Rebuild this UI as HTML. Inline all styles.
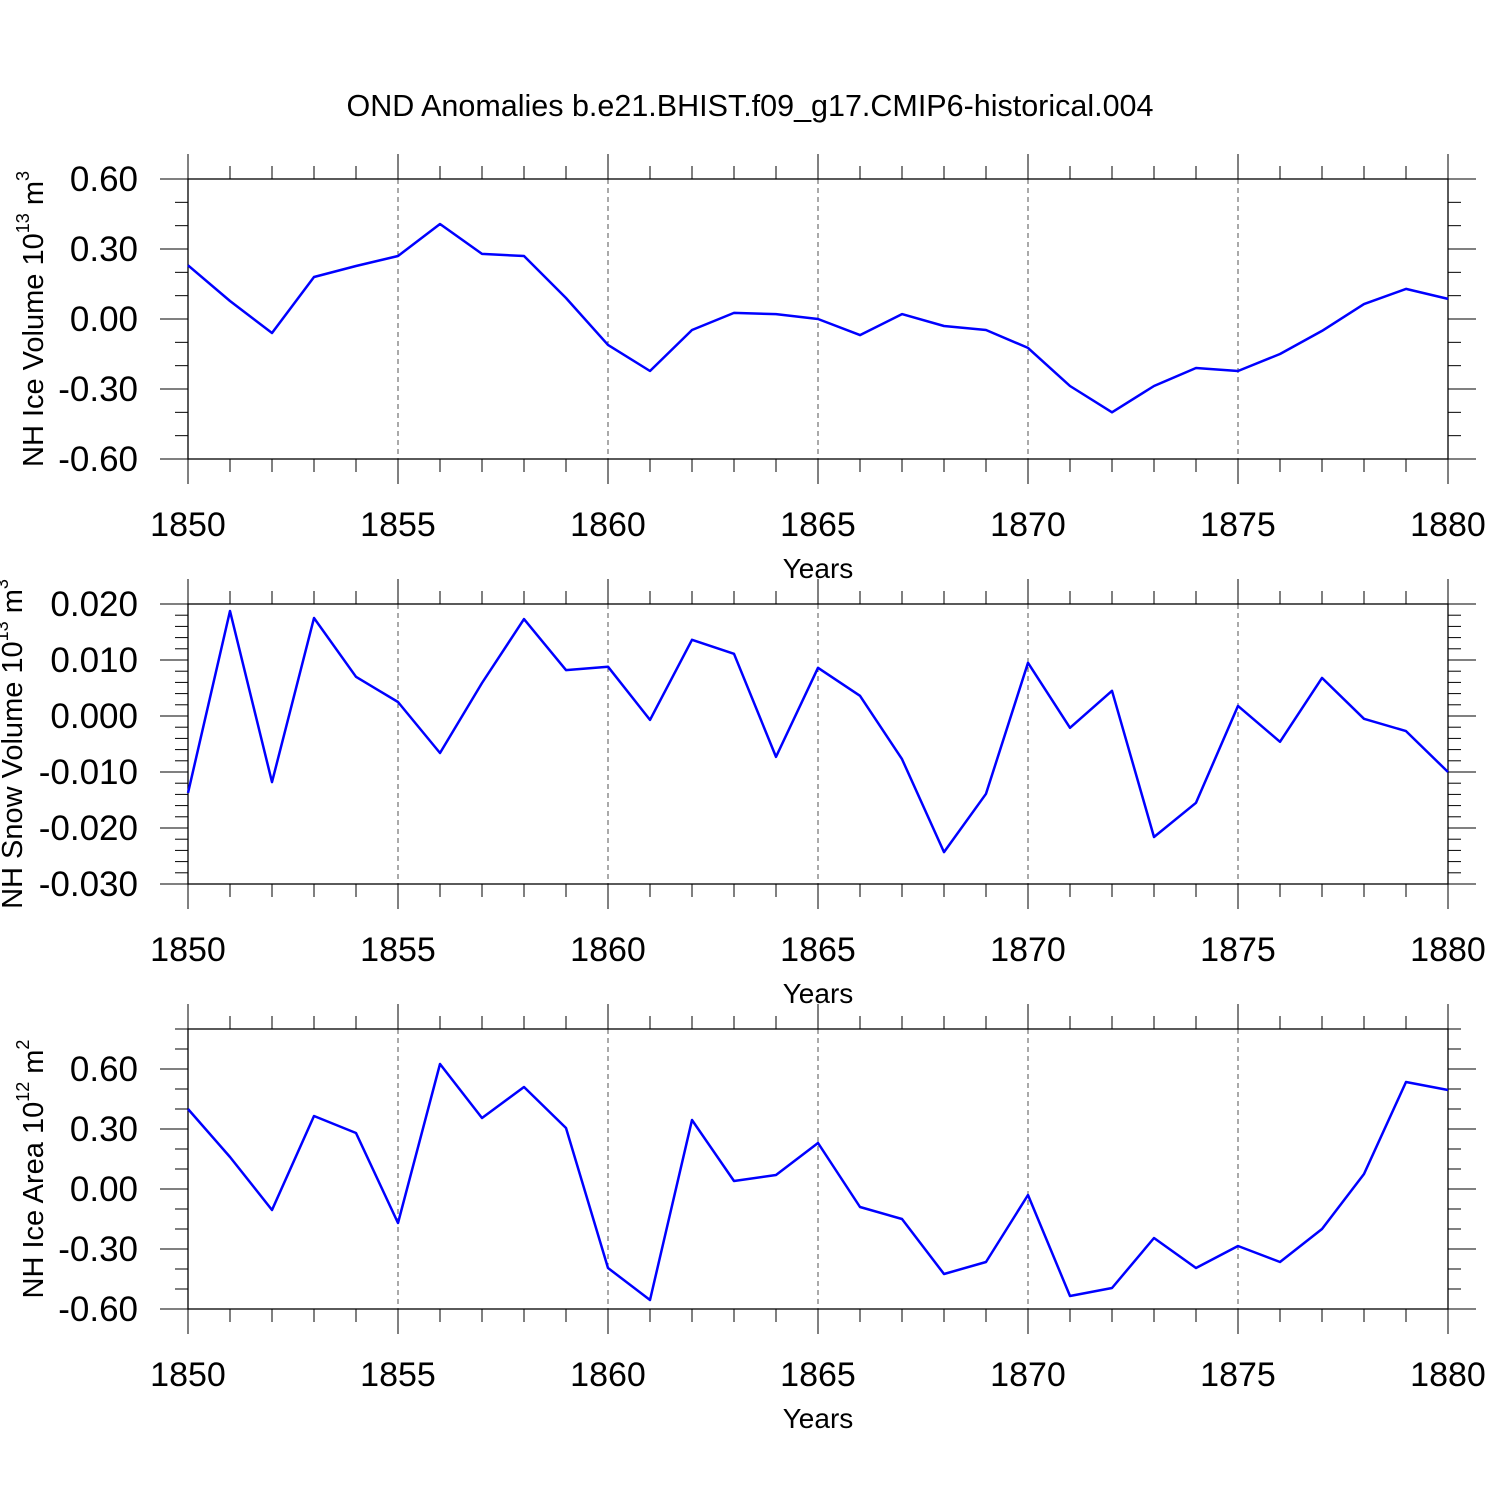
<!DOCTYPE html>
<html><head><meta charset="utf-8"><style>body{margin:0;background:#fff}svg{display:block}</style></head>
<body>
<svg id="chart" width="1500" height="1500" xmlns="http://www.w3.org/2000/svg" font-family="Liberation Sans, sans-serif">
<rect width="1500" height="1500" fill="#fff"/>
<text x="750" y="116" text-anchor="middle" font-size="30.5">OND Anomalies b.e21.BHIST.f09_g17.CMIP6-historical.004</text>
</svg>
<script>
const years = [];
for (let y = 1850; y <= 1880; y++) years.push(y);
const iceVolume = [0.23,0.077,-0.06,0.18,0.227,0.27,0.407,0.279,0.27,0.09,-0.111,-0.223,-0.047,0.026,0.021,0,-0.069,0.021,-0.03,-0.047,-0.124,-0.287,-0.4,-0.287,-0.21,-0.223,-0.15,-0.051,0.064,0.129,0.086];
const snowVolume = [-0.01375,0.01875,-0.0118,0.0175,0.007,0.0025,-0.0066,0.0059,0.0173,0.0082,0.0088,-0.0007,0.0136,0.0111,-0.0073,0.0086,0.0036,-0.0077,-0.0243,-0.0139,0.0095,-0.0021,0.0045,-0.0216,-0.0155,0.0018,-0.0046,0.0068,-0.0005,-0.0027,-0.01];
const iceArea = [0.40,0.16,-0.105,0.365,0.28,-0.17,0.625,0.355,0.51,0.305,-0.395,-0.555,0.345,0.04,0.07,0.23,-0.09,-0.15,-0.425,-0.365,-0.03,-0.535,-0.495,-0.245,-0.395,-0.285,-0.365,-0.2,0.075,0.535,0.495];
const xTickLabels = ['1850','1855','1860','1865','1870','1875','1880'];
const iceVolumeTicks = ['0.60','0.30','0.00','-0.30','-0.60'];
const snowTicks = ['0.020','0.010','0.000','-0.010','-0.020','-0.030'];
const iceAreaTicks = ['0.60','0.30','0.00','-0.30','-0.60'];

const NS = 'http://www.w3.org/2000/svg';
const svg = document.getElementById('chart');
function mk(tag, attrs, parent) {
  const e = document.createElementNS(NS, tag);
  for (const k in attrs) e.setAttribute(k, attrs[k]);
  (parent || svg).appendChild(e);
  return e;
}
const X0 = 188, X1 = 1448;
function xs(v) { return X0 + (v - 1850) / 30 * (X1 - X0); }

function panel(id, top, bottom, ymin, ymax, majorStep, minorStep, ticks, data, titleMain, sup, unitSup, titleX) {
  const g = mk('g', {});
  
  
  const ys = v => bottom - (v - ymin) / (ymax - ymin) * (bottom - top);
  for (let yr = 1855; yr < 1880; yr += 5) {
    const l = mk('line', {x1: xs(yr), x2: xs(yr), y1: top, y2: bottom, stroke: '#555', 'stroke-width': 1, 'stroke-dasharray': '5,4'}, g);
    
    
  }
  const box = mk('rect', {x: X0, y: top, width: X1 - X0, height: bottom - top, fill: 'none', stroke: '#000', 'stroke-width': 1.3}, g);
  
  
  for (let yr = 1850; yr <= 1880; yr++) {
    const major = yr % 5 === 0;
    const len = major ? 25 : 13;
    const x = xs(yr);
    mk('line', {x1: x, x2: x, y1: top - len, y2: top, stroke: '#000', 'stroke-width': 1}, g);
    mk('line', {x1: x, x2: x, y1: bottom, y2: bottom + len, stroke: '#000', 'stroke-width': 1}, g);
  }
  xTickLabels.forEach(t => {
    const tx = mk('text', {x: xs(+t), y: bottom + 77, 'text-anchor': 'middle', 'font-size': 34}, g);
    
    
    tx.textContent = t;
  });
  const xt = mk('text', {x: xs(1865), y: bottom + 119, 'text-anchor': 'middle', 'font-size': 28}, g);
  
  
  xt.textContent = 'Years';
  const nMinor = Math.round((ymax - ymin) / minorStep);
  for (let i = 0; i <= nMinor; i++) {
    const v = ymin + i * minorStep;
    const r = v / majorStep;
    const major = Math.abs(r - Math.round(r)) < 1e-6;
    const len = major ? 28 : 13;
    const y = ys(v);
    mk('line', {x1: X0 - len, x2: X0, y1: y, y2: y, stroke: '#000', 'stroke-width': 1}, g);
    mk('line', {x1: X1, x2: X1 + len, y1: y, y2: y, stroke: '#000', 'stroke-width': 1}, g);
  }
  ticks.forEach(t => {
    const tx = mk('text', {x: 138, y: ys(+t) + 12, 'text-anchor': 'end', 'font-size': 35}, g);
    
    
    tx.textContent = t;
  });
  const yt = mk('text', {x: 0, y: 0, 'text-anchor': 'middle', 'font-size': 29, transform: `translate(${titleX},${(top+bottom)/2}) rotate(-90)`}, g);
  
  
  yt.appendChild(document.createTextNode(titleMain));
  const s = mk('tspan', {'font-size': 18, dy: -14}, yt); s.textContent = sup;
  const u = mk('tspan', {dy: 14}, yt); u.textContent = ' m';
  const s2 = mk('tspan', {'font-size': 18, dy: -14}, yt); s2.textContent = unitSup;
}
</script>
<script>
panel('ice-volume', 179, 459, -0.6, 0.6, 0.3, 0.1, iceVolumeTicks, iceVolume, 'NH Ice Volume 10', '13', '3', 43);
panel('snow-volume', 604, 884, -0.03, 0.02, 0.01, 0.002, snowTicks, snowVolume, 'NH Snow Volume 10', '13', '3', 22);
panel('ice-area', 1029, 1309, -0.6, 0.8, 0.3, 0.1, iceAreaTicks, iceArea, 'NH Ice Area 10', '12', '2', 43);
// data lines
[[iceVolume, 179, 459, -0.6, 0.6, 'ice-volume-line'], [snowVolume, 604, 884, -0.03, 0.02, 'snow-volume-line'], [iceArea, 1029, 1309, -0.6, 0.8, 'ice-area-line']].forEach(p => {
  const [data, top, bottom, ymin, ymax, nm] = p;
  const ys = v => bottom - (v - ymin) / (ymax - ymin) * (bottom - top);
  const pts = data.map((v, i) => xs(years[i]).toFixed(1) + ',' + ys(v).toFixed(1)).join(' ');
  const pl = mk('polyline', {points: pts, fill: 'none', stroke: '#0000ff', 'stroke-width': 2.5, 'stroke-linejoin': 'round'});
  
  
});
</script>
</body></html>
